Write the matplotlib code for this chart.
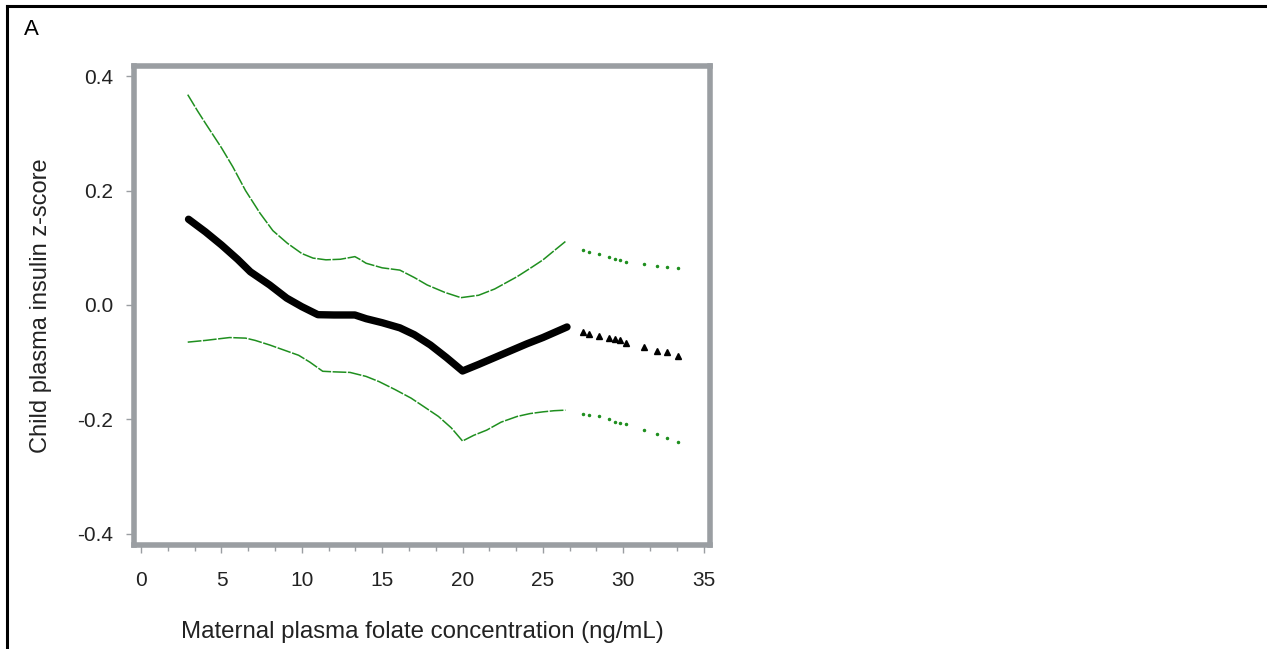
import matplotlib
matplotlib.use("Agg")
import matplotlib.pyplot as plt
from matplotlib.lines import Line2D
from matplotlib.ticker import MultipleLocator

plt.rcParams['font.family'] = ['Liberation Sans', 'DejaVu Sans']

# fitted estimate (solid part, within data support)
est_x = [2.95, 4.0, 5.0, 6.0, 6.8, 8.0, 9.06, 10.0, 11.0, 12.0, 13.3, 14.0, 15.0,
         16.1, 17.0, 18.0, 19.0, 20.0, 21.0, 22.0, 23.0, 24.0, 25.0, 26.5]
est_y = [0.150, 0.128, 0.105, 0.080, 0.058, 0.035, 0.012, -0.003, -0.017, -0.0175,
         -0.0175, -0.024, -0.031, -0.040, -0.052, -0.070, -0.092, -0.1155, -0.104,
         -0.092, -0.080, -0.068, -0.057, -0.0385]

# upper / lower confidence bands
up_x = [2.9, 3.5, 4.0, 5.0, 5.7, 6.5, 7.4, 8.2, 9.1, 10.0, 10.7, 11.5, 12.4, 13.0,
        13.3, 13.6, 14.0, 15.0, 16.1, 17.0, 17.8, 18.9, 19.9, 21.0, 22.0, 23.4,
        24.2, 25.0, 25.7, 26.4]
up_y = [0.368, 0.34, 0.318, 0.275, 0.242, 0.20, 0.1605, 0.13, 0.108, 0.09, 0.082,
        0.079, 0.080, 0.083, 0.0846, 0.080, 0.073, 0.065, 0.061, 0.048, 0.035, 0.022,
        0.0128, 0.017, 0.028, 0.0496, 0.064, 0.0788, 0.095, 0.111]
lo_x = [2.9, 4.0, 5.5, 6.5, 7.1, 8.0, 9.0, 9.8, 10.5, 11.3, 12.0, 13.0, 14.0, 14.8,
        15.8, 16.8, 17.6, 18.5, 19.3, 20.0, 20.7, 21.5, 22.4, 23.4, 24.2, 25.0,
        25.7, 26.4]
lo_y = [-0.065, -0.062, -0.057, -0.058, -0.062, -0.070, -0.080, -0.088, -0.100,
        -0.116, -0.117, -0.118, -0.125, -0.134, -0.148, -0.163, -0.178, -0.195,
        -0.215, -0.238, -0.228, -0.219, -0.205, -0.195, -0.190, -0.187, -0.185, -0.184]

# extrapolated tail (sparse points)
tail_x = [27.5, 27.9, 28.5, 29.1, 29.5, 29.8, 30.2, 31.3, 32.1, 32.7, 33.4]
tail_est = [-0.048, -0.051, -0.054, -0.058, -0.060, -0.062, -0.066, -0.073,
            -0.080, -0.083, -0.090]
tail_up = [0.0963, 0.093, 0.0887, 0.084, 0.080, 0.078, 0.0758, 0.0718, 0.068,
           0.066, 0.064]
tail_lo = [-0.191, -0.192, -0.195, -0.200, -0.204, -0.206, -0.208, -0.219,
           -0.226, -0.232, -0.240]

green = '#1f8f1f'
frame_gray = '#9a9ea2'

fig = plt.figure(figsize=(12.67, 6.49), dpi=100)
ax = fig.add_axes([0.1058, 0.1602, 0.4546, 0.738])

ax.plot(up_x, up_y, color=green, lw=1.1, ls=(0, (9, 1)))
ax.plot(lo_x, lo_y, color=green, lw=1.1, ls=(0, (9, 1)))
ax.plot(est_x, est_y, color='black', lw=5.3, solid_capstyle='round')

ax.plot(tail_x, tail_up, ls='none', marker='o', ms=1.5, color=green)
ax.plot(tail_x, tail_lo, ls='none', marker='o', ms=1.5, color=green)
ax.plot(tail_x, tail_est, ls='none', marker='^', ms=4.5, color='black')

ax.set_xlim(-0.44, 35.4)
ax.set_ylim(-0.42, 0.418)
ax.set_xticks([0, 5, 10, 15, 20, 25, 30, 35])
ax.xaxis.set_minor_locator(MultipleLocator(5 / 3))
ax.set_yticks([-0.4, -0.2, 0.0, 0.2, 0.4])
ax.set_yticklabels(['-0.4', '-0.2', '0.0', '0.2', '0.4'])

for s in ax.spines.values():
    s.set_color(frame_gray)
    s.set_linewidth(4)
ax.tick_params(axis='y', which='major', colors=frame_gray, length=6, width=1,
               labelcolor='#222222', labelsize=15, pad=9)
ax.tick_params(axis='x', which='major', colors=frame_gray, length=6, width=1,
               labelcolor='#222222', labelsize=15, pad=13)
ax.tick_params(axis='x', which='minor', colors=frame_gray, length=4, width=1)

ax.set_xlabel('Maternal plasma folate concentration (ng/mL)', fontsize=17.3,
              color='#222222', labelpad=22)
ax.set_ylabel('Child plasma insulin z-score', fontsize=17, color='#222222',
              labelpad=18)

fig.text(0.019, 0.955, 'A', fontsize=16, color='black', va='center')

# outer panel frame (top and left edges)
fig.add_artist(Line2D([0.0055, 1.0], [0.99, 0.99], color='black', lw=2.2,
                      transform=fig.transFigure))
fig.add_artist(Line2D([0.0055, 0.0055], [0.0, 0.99], color='black', lw=2.2,
                      transform=fig.transFigure))

fig.savefig('out.png', dpi=100)
